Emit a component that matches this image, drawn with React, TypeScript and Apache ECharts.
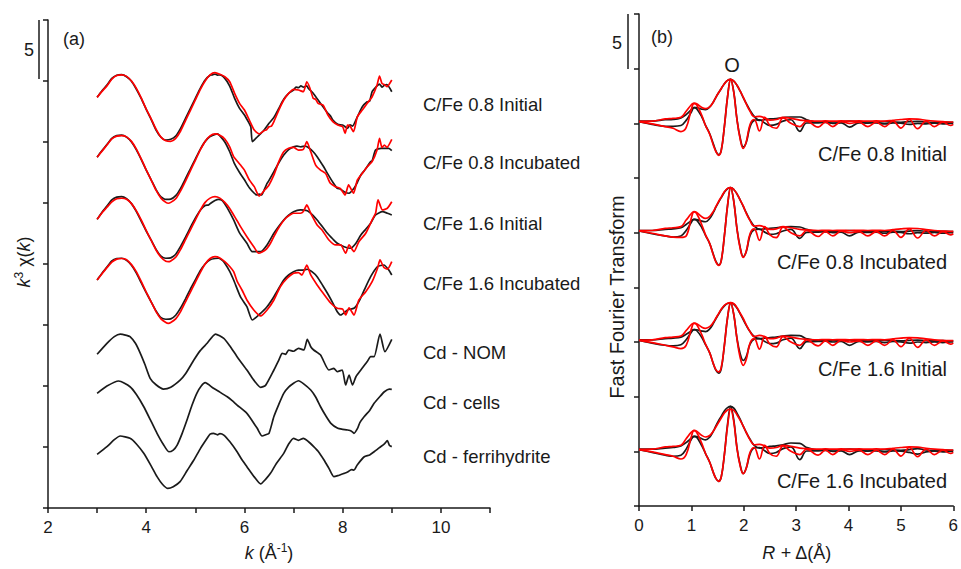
import { useEffect, useRef } from "react";
import * as echarts from "echarts";

// ---------------- Panel (a): k^3 chi(k) spectra (raw values, offsets below) ----------------
const A_LABELS = ["C/Fe 0.8 Initial", "C/Fe 0.8 Incubated", "C/Fe 1.6 Initial", "C/Fe 1.6 Incubated", "Cd - NOM", "Cd - cells", "Cd - ferrihydrite"];
const A_OFFSETS = [33, 28, 23, 18, 12, 7.5, 3.75];

const C1_DATA = [[3.0,0.66],[3.1,1.2],[3.2,1.67],[3.3,2.22],[3.4,2.47],[3.5,2.52],[3.6,2.35],[3.7,1.98],[3.8,1.32],[3.9,0.55],[4.0,-0.32],[4.1,-1.14],[4.2,-2.02],[4.3,-2.61],[4.4,-2.84],[4.5,-2.78],[4.6,-2.51],[4.7,-1.88],[4.8,-1.06],[4.9,-0.24],[5.0,0.58],[5.1,1.4],[5.2,2.08],[5.3,2.47],[5.35,2.5],[5.4,2.57],[5.45,2.48],[5.5,2.5],[5.6,2.22],[5.7,1.59],[5.8,0.58],[5.9,-0.24],[6.0,-0.79],[6.1,-1.5],[6.13,-1.75],[6.16,-2.98],[6.22,-2.75],[6.3,-2.43],[6.4,-2.02],[6.5,-1.47],[6.6,-0.98],[6.7,-0.24],[6.8,0.5],[6.9,0.99],[7.0,1.26],[7.05,1.5],[7.1,1.45],[7.15,1.6],[7.2,1.5],[7.27,1.6],[7.3,1.4],[7.4,0.99],[7.5,0.44],[7.6,-0.11],[7.7,-0.65],[7.75,-0.85],[7.8,-1.2],[7.9,-1.55],[8.0,-1.61],[8.05,-1.75],[8.1,-1.88],[8.15,-1.6],[8.2,-1.7],[8.3,-0.93],[8.4,-0.11],[8.5,0.3],[8.55,0.35],[8.6,1.12],[8.7,1.6],[8.75,1.75],[8.8,1.5],[8.85,1.65],[8.9,1.7],[9.0,1.12]];
const C1_FIT = [[3.0,0.66],[3.1,1.15],[3.2,1.6],[3.3,2.15],[3.4,2.45],[3.5,2.5],[3.6,2.38],[3.7,2.0],[3.8,1.4],[3.9,0.6],[4.0,-0.3],[4.1,-1.1],[4.2,-1.95],[4.3,-2.6],[4.4,-2.9],[4.5,-2.95],[4.6,-2.7],[4.7,-2.1],[4.8,-1.25],[4.9,-0.4],[5.0,0.45],[5.1,1.3],[5.2,2.0],[5.3,2.5],[5.4,2.68],[5.5,2.55],[5.6,2.35],[5.7,1.94],[5.8,0.99],[5.9,0.17],[6.0,-0.38],[6.1,-1.2],[6.2,-2.02],[6.3,-2.34],[6.4,-2.07],[6.45,-2.0],[6.5,-1.75],[6.55,-1.7],[6.6,-1.33],[6.7,-0.38],[6.8,0.44],[6.9,0.99],[7.0,1.32],[7.1,1.26],[7.2,1.12],[7.27,1.94],[7.33,1.45],[7.4,0.58],[7.45,0.5],[7.5,0.17],[7.6,0.03],[7.7,-0.79],[7.8,-1.33],[7.9,-1.61],[8.0,-1.75],[8.05,-2.29],[8.1,-1.61],[8.15,-1.7],[8.22,-2.16],[8.3,-0.93],[8.4,-0.38],[8.5,0.17],[8.6,0.71],[8.7,1.67],[8.75,2.41],[8.8,1.81],[8.85,1.7],[8.9,1.53],[9.0,2.08]];

const C2_DATA = [[3.0,0.75],[3.1,1.3],[3.2,1.8],[3.3,2.3],[3.4,2.52],[3.5,2.57],[3.6,2.4],[3.7,2.0],[3.8,1.35],[3.9,0.55],[4.0,-0.3],[4.1,-1.1],[4.2,-1.9],[4.3,-2.5],[4.4,-2.7],[4.5,-2.68],[4.6,-2.4],[4.7,-1.8],[4.8,-1.0],[4.9,-0.2],[5.0,0.6],[5.1,1.4],[5.2,2.05],[5.3,2.45],[5.4,2.62],[5.45,2.66],[5.5,2.5],[5.6,2.0],[5.7,1.2],[5.8,0.2],[5.9,-0.5],[6.0,-1.1],[6.1,-1.75],[6.2,-2.2],[6.25,-2.34],[6.3,-2.28],[6.35,-2.34],[6.4,-1.95],[6.46,-1.39],[6.5,-1.15],[6.6,-0.43],[6.7,0.3],[6.8,0.93],[6.9,1.38],[7.0,1.6],[7.07,1.67],[7.15,1.6],[7.24,1.67],[7.3,1.55],[7.4,1.2],[7.48,0.8],[7.6,0.05],[7.69,-0.57],[7.8,-1.3],[7.89,-1.8],[7.95,-1.85],[8.03,-2.07],[8.13,-2.2],[8.23,-1.8],[8.3,-1.3],[8.37,-0.7],[8.45,-0.3],[8.57,0.39],[8.6,0.45],[8.67,1.34],[8.78,1.48],[8.94,1.48],[9.0,1.29]];
const C2_FIT = [[3.0,0.75],[3.1,1.25],[3.2,1.75],[3.3,2.25],[3.4,2.48],[3.5,2.52],[3.6,2.42],[3.7,2.05],[3.8,1.42],[3.9,0.6],[4.0,-0.28],[4.1,-1.1],[4.2,-1.95],[4.3,-2.6],[4.4,-2.95],[4.45,-3.02],[4.5,-2.95],[4.6,-2.65],[4.7,-2.0],[4.8,-1.2],[4.9,-0.35],[5.0,0.5],[5.1,1.35],[5.2,2.05],[5.3,2.5],[5.4,2.66],[5.5,2.55],[5.6,2.25],[5.7,1.6],[5.78,0.8],[5.92,0.11],[6.0,-0.3],[6.1,-1.11],[6.2,-1.66],[6.3,-2.43],[6.4,-1.99],[6.5,-1.52],[6.6,-0.7],[6.7,0.39],[6.8,1.2],[6.9,1.48],[7.0,1.56],[7.1,1.34],[7.2,1.39],[7.27,2.03],[7.35,1.2],[7.45,0.11],[7.55,-0.3],[7.65,-0.57],[7.75,-1.39],[7.85,-1.66],[7.95,-1.8],[8.05,-2.34],[8.12,-1.52],[8.22,-2.2],[8.3,-1.11],[8.4,-0.57],[8.5,-0.03],[8.6,0.39],[8.7,1.34],[8.75,2.3],[8.8,1.56],[8.85,1.75],[8.9,1.56],[9.0,2.22]];

const C3_DATA = [[3.0,0.66],[3.1,1.25],[3.2,1.75],[3.3,2.25],[3.4,2.48],[3.5,2.52],[3.6,2.35],[3.7,1.95],[3.8,1.3],[3.9,0.5],[4.0,-0.3],[4.1,-1.05],[4.2,-1.8],[4.3,-2.35],[4.4,-2.53],[4.5,-2.5],[4.6,-2.2],[4.7,-1.55],[4.8,-0.8],[4.9,0.0],[5.0,0.75],[5.1,1.4],[5.2,1.8],[5.27,1.84],[5.32,2.0],[5.4,2.2],[5.47,2.3],[5.55,2.2],[5.65,1.6],[5.78,0.61],[5.9,-0.45],[6.05,-1.3],[6.16,-1.99],[6.33,-1.99],[6.46,-1.44],[6.6,-0.48],[6.7,0.1],[6.8,0.61],[6.9,1.0],[7.0,1.29],[7.14,1.43],[7.28,1.37],[7.38,1.05],[7.48,0.61],[7.58,0.1],[7.69,-0.48],[7.8,-0.95],[7.89,-1.3],[8.03,-1.58],[8.16,-1.71],[8.27,-1.3],[8.37,-0.62],[8.47,-0.15],[8.57,0.34],[8.67,1.02],[8.81,1.29],[8.91,1.16],[9.0,1.02]];
const C3_FIT = [[3.0,0.66],[3.1,1.2],[3.2,1.65],[3.3,2.1],[3.4,2.35],[3.5,2.39],[3.6,2.3],[3.7,1.95],[3.8,1.35],[3.9,0.6],[4.0,-0.25],[4.1,-1.05],[4.2,-1.85],[4.3,-2.45],[4.4,-2.78],[4.45,-2.81],[4.5,-2.75],[4.6,-2.45],[4.7,-1.8],[4.8,-1.0],[4.9,-0.2],[5.0,0.6],[5.1,1.4],[5.2,2.05],[5.3,2.4],[5.4,2.52],[5.5,2.4],[5.6,2.05],[5.7,1.55],[5.78,1.02],[5.85,0.55],[5.92,0.06],[6.05,-0.76],[6.19,-1.58],[6.29,-2.12],[6.43,-1.85],[6.53,-1.3],[6.67,-0.21],[6.84,0.75],[7.0,1.16],[7.14,1.16],[7.2,1.3],[7.27,1.84],[7.35,1.16],[7.48,0.2],[7.58,-0.21],[7.72,-1.03],[7.86,-1.44],[7.96,-1.44],[8.06,-2.12],[8.13,-1.44],[8.23,-1.99],[8.33,-1.17],[8.47,-0.48],[8.6,0.61],[8.67,1.16],[8.72,2.25],[8.81,1.43],[8.91,1.57],[9.0,2.1]];

const C4_DATA = [[3.0,0.69],[3.1,1.25],[3.2,1.75],[3.3,2.25],[3.4,2.45],[3.5,2.47],[3.6,2.3],[3.7,1.9],[3.8,1.25],[3.9,0.45],[4.0,-0.35],[4.1,-1.1],[4.2,-1.85],[4.3,-2.4],[4.4,-2.53],[4.5,-2.5],[4.6,-2.2],[4.7,-1.6],[4.8,-0.85],[4.9,-0.05],[5.0,0.7],[5.1,1.45],[5.2,2.0],[5.3,2.35],[5.4,2.45],[5.47,2.47],[5.55,2.3],[5.6,2.06],[5.7,1.4],[5.78,0.69],[5.92,-0.7],[6.05,-1.5],[6.16,-2.59],[6.29,-2.18],[6.46,-1.5],[6.6,-0.68],[6.8,0.69],[6.9,1.1],[7.0,1.37],[7.1,1.5],[7.2,1.5],[7.28,1.57],[7.38,1.35],[7.48,0.96],[7.6,0.2],[7.69,-0.4],[7.8,-1.2],[7.89,-1.91],[7.96,-2.18],[8.1,-1.77],[8.23,-1.63],[8.33,-1.08],[8.44,-0.13],[8.57,0.96],[8.71,1.78],[8.84,1.92],[8.94,1.5],[9.0,1.1]];
const C4_FIT = [[3.0,0.69],[3.1,1.2],[3.2,1.7],[3.3,2.15],[3.4,2.4],[3.5,2.45],[3.6,2.35],[3.7,1.95],[3.8,1.35],[3.9,0.55],[4.0,-0.3],[4.1,-1.1],[4.2,-1.9],[4.3,-2.5],[4.4,-2.8],[4.45,-2.86],[4.5,-2.8],[4.6,-2.5],[4.7,-1.9],[4.8,-1.1],[4.9,-0.3],[5.0,0.5],[5.1,1.3],[5.2,2.0],[5.3,2.45],[5.4,2.6],[5.5,2.5],[5.6,2.2],[5.7,1.8],[5.78,1.37],[5.85,0.6],[5.95,-0.13],[6.05,-0.95],[6.19,-1.77],[6.33,-2.26],[6.46,-1.77],[6.6,-0.95],[6.73,0.14],[6.87,0.83],[7.0,1.24],[7.1,1.3],[7.17,1.1],[7.27,1.92],[7.35,1.1],[7.48,0.28],[7.58,-0.27],[7.76,-1.22],[7.89,-1.63],[8.0,-1.7],[8.06,-2.18],[8.13,-1.6],[8.23,-2.18],[8.33,-0.95],[8.47,-0.27],[8.6,0.55],[8.71,1.65],[8.76,2.33],[8.84,1.71],[8.91,1.57],[9.0,2.19]];

const NOM_DATA = [[3.0,0.6],[3.2,1.5],[3.35,2.05],[3.47,2.26],[3.6,2.15],[3.67,2.04],[3.78,1.5],[3.88,0.68],[3.98,-0.3],[4.08,-1.37],[4.2,-1.9],[4.35,-2.25],[4.5,-2.1],[4.69,-1.52],[4.8,-1.0],[4.97,0.13],[5.1,0.9],[5.24,1.5],[5.41,2.26],[5.58,1.91],[5.7,1.3],[5.85,0.4],[6.05,-0.69],[6.19,-1.52],[6.33,-2.11],[6.43,-1.95],[6.6,-0.69],[6.7,0.13],[6.77,0.68],[6.84,0.6],[6.9,0.95],[7.0,0.85],[7.1,1.09],[7.21,0.95],[7.28,1.83],[7.35,1.22],[7.41,0.95],[7.55,0.54],[7.72,-0.69],[7.82,-0.55],[7.89,-0.83],[7.99,-0.69],[8.06,-1.92],[8.13,-1.1],[8.2,-1.92],[8.27,-1.24],[8.37,-0.69],[8.5,0.0],[8.57,0.4],[8.64,0.4],[8.76,2.26],[8.86,0.81],[9.0,1.83]];
const CELLS_DATA = [[3.0,1.9],[3.2,2.5],[3.44,2.91],[3.67,2.44],[3.8,1.8],[3.95,0.8],[4.1,-0.4],[4.22,-1.38],[4.35,-2.3],[4.46,-2.89],[4.55,-2.75],[4.63,-2.34],[4.73,-1.4],[4.83,-0.29],[4.93,0.9],[5.03,1.9],[5.12,2.5],[5.2,2.77],[5.37,2.31],[5.5,2.0],[5.65,1.62],[5.75,1.3],[5.85,0.94],[6.05,0.26],[6.15,-0.3],[6.26,-0.97],[6.36,-1.6],[6.43,-1.5],[6.5,-1.38],[6.6,0.0],[6.7,1.0],[6.8,1.9],[6.9,2.4],[7.0,2.72],[7.1,2.93],[7.2,2.7],[7.35,2.17],[7.45,1.6],[7.55,0.8],[7.65,0.1],[7.76,-0.56],[7.9,-0.97],[8.0,-1.05],[8.1,-1.11],[8.18,-1.2],[8.23,-1.38],[8.3,-1.0],[8.35,-0.5],[8.44,0.0],[8.55,0.5],[8.64,1.08],[8.75,1.6],[8.85,2.03],[8.95,2.25],[9.0,2.23]];
const FERRI_DATA = [[3.0,0.65],[3.2,1.28],[3.35,1.85],[3.47,2.15],[3.67,1.96],[3.8,1.5],[3.95,0.73],[4.1,-0.3],[4.22,-1.18],[4.33,-1.8],[4.44,-2.14],[4.55,-2.0],[4.69,-1.59],[4.83,-0.7],[4.97,0.18],[5.1,1.1],[5.24,1.96],[5.3,2.3],[5.37,2.37],[5.45,2.25],[5.5,2.35],[5.58,2.23],[5.7,1.7],[5.85,0.86],[5.95,0.2],[6.05,-0.36],[6.2,-1.2],[6.33,-1.78],[6.43,-1.4],[6.53,-0.91],[6.65,-0.1],[6.8,0.73],[6.9,1.5],[7.0,1.96],[7.1,1.8],[7.2,1.96],[7.3,1.7],[7.41,1.28],[7.5,0.9],[7.62,0.18],[7.72,-0.5],[7.82,-1.18],[7.9,-1.1],[8.03,-0.91],[8.1,-0.8],[8.18,-0.6],[8.23,-0.64],[8.3,-0.2],[8.44,0.45],[8.55,0.6],[8.64,0.86],[8.75,1.2],[8.85,1.5],[8.91,1.77],[8.95,1.4],[9.0,1.28]];

const A_DATA = [C1_DATA, C2_DATA, C3_DATA, C4_DATA, NOM_DATA, CELLS_DATA, FERRI_DATA];
const A_FITS = [C1_FIT, C2_FIT, C3_FIT, C4_FIT];

// ---------------- Panel (b): Fourier transforms (magnitude + imaginary part) ----------------
const B_LABELS = ["C/Fe 0.8 Initial", "C/Fe 0.8 Incubated", "C/Fe 1.6 Initial", "C/Fe 1.6 Incubated"];
const B_OFFSETS = [35, 25, 15, 5];
const R_GRID = [0,0.25,0.5,0.65,0.8,0.9,1.0,1.05,1.1,1.2,1.27,1.35,1.42,1.47,1.52,1.57,1.63,1.69,1.75,1.81,1.87,1.93,1.99,2.05,2.12,2.2,2.3,2.4,2.5,2.62,2.75,2.9,3.07,3.2,3.42,3.56,3.7,3.86,4.02,4.2,4.37,4.53,4.69,4.85,5.0,5.16,5.32,5.48,5.64,5.8,5.95,6.0];

const B1_MAG = [0.2,0.2,0.33,0.36,0.5,0.8,1.25,1.43,1.43,1.3,1.25,1.5,1.95,2.4,2.8,3.17,3.63,3.93,4.02,3.87,3.48,2.96,2.35,1.8,1.19,0.64,0.27,0.33,0.4,0.43,0.52,0.58,0.58,0.33,0.12,0.15,0.12,0.15,0.2,0.15,0.12,0.1,0.15,0.12,0.1,0.15,0.18,0.12,0.1,0.12,0.1,0.1];
const B1_IM = [0.15,-0.1,-0.27,-0.27,-0.2,0.27,1.04,1.43,1.34,0.58,-0.18,-0.95,-1.9,-2.55,-2.87,-2.47,-0.3,2.4,4.02,2.85,0.4,-1.3,-2.16,-1.7,-0.3,0.27,0.33,0.03,-0.18,-0.1,0.2,0.33,-0.73,0.03,0.05,0.08,0.0,0.05,-0.34,0.05,0.02,0.05,-0.05,0.05,0.02,-0.1,0.0,-0.05,0.02,-0.05,0.0,0.0];
const B1_FIT_MAG = [0.18,0.2,0.4,0.45,0.55,1.1,1.7,1.86,1.8,1.45,1.34,1.5,1.95,2.4,2.8,3.17,3.63,3.93,4.02,3.87,3.48,2.96,2.4,1.75,1.1,0.6,0.64,0.5,0.3,0.35,0.55,0.45,0.3,0.25,0.2,0.22,0.2,0.22,0.2,0.22,0.2,0.22,0.2,0.28,0.35,0.4,0.38,0.28,0.2,0.15,0.12,0.12];
const B1_FIT_IM = [0.15,-0.05,-0.3,-0.45,-0.75,-0.4,1.3,1.8,1.7,0.7,-0.2,-1.0,-2.0,-2.6,-2.93,-2.5,-0.3,2.4,4.02,2.8,0.35,-1.4,-2.3,-1.65,-0.1,0.35,-0.7,0.55,-0.2,-0.45,0.5,0.0,-0.3,0.2,-0.35,0.1,-0.3,0.15,0.0,0.1,-0.3,0.1,-0.3,0.2,-0.43,0.35,-0.49,0.2,-0.3,0.1,-0.2,-0.1];

const B2_MAG = [0.2,0.2,0.3,0.35,0.45,0.75,1.1,1.22,1.2,1.05,1.0,1.3,1.85,2.35,2.8,3.2,3.7,4.02,4.12,3.95,3.55,3.0,2.4,1.8,1.15,0.6,0.3,0.35,0.4,0.45,0.5,0.55,0.52,0.3,0.12,0.15,0.12,0.15,0.2,0.15,0.12,0.1,0.15,0.12,0.1,0.15,0.18,0.12,0.1,0.12,0.1,0.1];
const B2_IM = [0.15,-0.1,-0.3,-0.4,-0.3,0.2,0.95,1.22,1.15,0.45,-0.25,-1.0,-2.0,-2.65,-2.96,-2.55,-0.3,2.45,4.12,2.85,0.4,-1.3,-2.2,-1.7,-0.25,0.27,0.33,0.05,-0.15,-0.1,0.15,0.3,-0.52,0.03,0.05,0.08,0.0,0.05,-0.3,0.05,0.02,0.05,-0.05,0.05,0.02,-0.1,0.0,-0.05,0.02,-0.05,0.0,0.0];
const B2_FIT_MAG = [0.18,0.2,0.4,0.45,0.55,1.15,1.75,1.92,1.85,1.45,1.31,1.5,1.95,2.4,2.85,3.25,3.75,4.05,4.12,3.95,3.55,3.0,2.45,1.75,1.1,0.6,0.64,0.5,0.3,0.35,0.55,0.45,0.3,0.25,0.2,0.22,0.2,0.22,0.2,0.22,0.2,0.22,0.2,0.28,0.35,0.4,0.38,0.28,0.2,0.15,0.12,0.12];
const B2_FIT_IM = [0.15,-0.05,-0.3,-0.4,-0.43,-0.3,1.35,1.9,1.75,0.7,-0.2,-1.0,-2.05,-2.7,-3.0,-2.55,-0.3,2.45,4.12,2.85,0.35,-1.4,-2.26,-1.65,-0.1,0.35,-0.7,0.55,-0.2,-0.45,0.5,0.0,-0.3,0.2,-0.35,0.1,-0.3,0.15,0.0,0.1,-0.3,0.1,-0.3,0.2,-0.43,0.35,-0.49,0.2,-0.3,0.1,-0.2,-0.1];

const B3_MAG = [0.2,0.2,0.3,0.35,0.45,0.7,1.0,1.13,1.12,1.0,0.95,1.2,1.7,2.15,2.55,2.95,3.3,3.52,3.55,3.45,3.1,2.6,2.05,1.5,0.95,0.5,0.3,0.35,0.4,0.45,0.55,0.61,0.58,0.3,0.12,0.15,0.12,0.15,0.2,0.15,0.12,0.1,0.15,0.12,0.1,0.15,0.18,0.12,0.1,0.12,0.1,0.1];
const B3_IM = [0.15,-0.1,-0.3,-0.35,-0.25,0.2,0.9,1.13,1.05,0.4,-0.25,-1.0,-2.0,-2.6,-2.84,-2.45,-0.3,2.2,3.55,2.5,0.35,-1.05,-1.68,-1.3,-0.2,0.25,0.3,0.05,-0.15,-0.1,0.2,0.35,-0.61,0.03,0.05,0.08,0.0,0.05,-0.3,0.05,0.02,0.05,-0.05,0.05,0.02,-0.1,0.0,-0.05,0.02,-0.05,0.0,0.0];
const B3_FIT_MAG = [0.18,0.2,0.4,0.45,0.55,1.05,1.6,1.74,1.68,1.35,1.25,1.4,1.8,2.2,2.6,3.0,3.35,3.55,3.6,3.5,3.15,2.65,2.15,1.55,0.95,0.5,0.6,0.5,0.3,0.35,0.55,0.45,0.3,0.25,0.2,0.22,0.2,0.22,0.2,0.22,0.2,0.22,0.2,0.28,0.35,0.4,0.38,0.28,0.2,0.15,0.12,0.12];
const B3_FIT_IM = [0.15,-0.05,-0.3,-0.45,-0.6,-0.3,1.2,1.7,1.6,0.65,-0.2,-1.0,-2.0,-2.55,-2.74,-2.35,-0.3,2.2,3.6,2.5,0.3,-1.4,-2.13,-1.55,-0.1,0.3,-0.65,0.5,-0.2,-0.45,0.5,0.0,-0.3,0.2,-0.35,0.1,-0.3,0.15,0.0,0.1,-0.3,0.1,-0.3,0.2,-0.43,0.35,-0.49,0.2,-0.3,0.1,-0.2,-0.1];

const B4_MAG = [0.2,0.2,0.3,0.35,0.5,0.8,1.2,1.37,1.35,1.15,1.05,1.3,1.85,2.35,2.8,3.2,3.7,4.0,4.12,3.95,3.5,2.95,2.3,1.7,1.1,0.55,0.3,0.35,0.45,0.5,0.6,0.76,0.72,0.35,0.12,0.15,0.12,0.15,0.2,0.15,0.12,0.1,0.15,0.12,0.1,0.15,0.25,0.12,0.1,0.12,0.1,0.1];
const B4_IM = [0.15,-0.1,-0.35,-0.45,-0.35,0.2,1.1,1.37,1.3,0.5,-0.2,-1.0,-1.95,-2.5,-2.74,-2.35,-0.3,2.45,4.12,2.85,0.35,-1.2,-2.04,-1.5,-0.25,0.3,0.35,0.05,-0.2,-0.1,0.25,0.4,-0.76,0.03,0.05,0.08,0.0,0.05,-0.3,0.05,0.02,0.05,-0.05,0.05,0.02,-0.1,-0.25,-0.05,0.02,-0.05,0.0,0.0];
const B4_FIT_MAG = [0.18,0.2,0.4,0.45,0.55,1.15,1.75,1.92,1.85,1.45,1.31,1.45,1.85,2.25,2.65,3.05,3.5,3.78,3.87,3.75,3.35,2.85,2.3,1.7,1.05,0.6,0.64,0.5,0.3,0.35,0.55,0.45,0.3,0.25,0.2,0.22,0.2,0.22,0.2,0.22,0.2,0.22,0.2,0.28,0.35,0.4,0.38,0.28,0.2,0.15,0.12,0.12];
const B4_FIT_IM = [0.15,-0.05,-0.3,-0.45,-0.7,-0.3,1.35,1.9,1.75,0.7,-0.2,-1.0,-1.95,-2.5,-2.74,-2.35,-0.3,2.3,3.87,2.7,0.3,-1.3,-2.04,-1.5,-0.1,0.35,-0.7,0.55,-0.2,-0.45,0.5,0.0,-0.3,0.2,-0.35,0.1,-0.3,0.15,0.0,0.1,-0.3,0.1,-0.3,0.2,-0.43,0.35,-0.49,0.2,-0.3,0.1,-0.2,-0.1];

const B_DATA = [[B1_MAG, B1_IM], [B2_MAG, B2_IM], [B3_MAG, B3_IM], [B4_MAG, B4_IM]];
const B_FITS = [[B1_FIT_MAG, B1_FIT_IM], [B2_FIT_MAG, B2_FIT_IM], [B3_FIT_MAG, B3_FIT_IM], [B4_FIT_MAG, B4_FIT_IM]];

// axis ticks
const A_X_TICKS = [2, 4, 6, 8, 10];
const B_X_TICKS = [0, 1, 2, 3, 4, 5, 6];

const FONT = '"Liberation Sans", Arial, Helvetica, sans-serif';
const INK = "#1a1a1a";
const RED = "#ff0000";

function shifted(pairs: number[][], off: number) {
  return pairs.map(([x, y]) => [x, +(y + off).toFixed(3)]);
}
function gridded(xs: number[], ys: number[], off: number) {
  return xs.map((x, i) => [x, +(ys[i] + off).toFixed(3)]);
}

function lineSeries(data: number[][], color: string, axis: number, smooth: number, width: number) {
  return {
    type: "line",
    xAxisIndex: axis,
    yAxisIndex: axis,
    data,
    showSymbol: false,
    symbol: "none",
    smooth,
    silent: true,
    clip: false,
    lineStyle: { color, width },
  };
}

export default function App() {
  const ref = useRef<HTMLDivElement>(null);
  useEffect(() => {
    if (!ref.current) return;
    const chart = echarts.init(ref.current, undefined, { renderer: "svg" });

    const series: any[] = [];
    A_DATA.forEach((d, i) => series.push(lineSeries(shifted(d, A_OFFSETS[i]), INK, 0, 0.2, 1.7)));
    A_FITS.forEach((d, i) => series.push(lineSeries(shifted(d, A_OFFSETS[i]), RED, 0, 0.2, 1.7)));
    B_DATA.forEach(([m, im], i) => {
      series.push(lineSeries(gridded(R_GRID, m, B_OFFSETS[i]), INK, 1, 0.4, 1.7));
      series.push(lineSeries(gridded(R_GRID, im, B_OFFSETS[i]), INK, 1, 0.4, 1.7));
    });
    B_FITS.forEach(([m, im], i) => {
      series.push(lineSeries(gridded(R_GRID, m, B_OFFSETS[i]), RED, 1, 0.4, 1.7));
      series.push(lineSeries(gridded(R_GRID, im, B_OFFSETS[i]), RED, 1, 0.4, 1.7));
    });

    const axisLine = { show: true, lineStyle: { color: INK, width: 1.5 } };
    const tickStyle = { show: true, inside: false, length: 5, lineStyle: { color: INK, width: 1.5 } };
    const labelStyle = { color: INK, fontFamily: FONT, fontSize: 17, margin: 11 };

    const textEl = (x: number, y: number, text: string, size: number, align = "left", extra: any = {}, rotation = 0) => ({
      type: "text",
      x,
      y,
      rotation,
      silent: true,
      style: {
        text,
        fill: INK,
        font: `${size}px ${FONT}`,
        align,
        textAlign: align,
        verticalAlign: "middle",
        textVerticalAlign: "middle",
        ...extra,
      },
    });

    const graphic: any[] = [
      { type: "line", silent: true, shape: { x1: 39, y1: 20, x2: 39, y2: 79 }, style: { stroke: INK, lineWidth: 1.5 } },
      textEl(29, 50, "5", 18, "center"),
      textEl(63, 39, "(a)", 18),
      { type: "line", silent: true, shape: { x1: 628, y1: 14, x2: 628, y2: 69 }, style: { stroke: INK, lineWidth: 1.5 } },
      textEl(617, 43, "5", 18, "center"),
      textEl(651, 37, "(b)", 18),
      textEl(732, 65, "O", 20, "center"),
    ];
    const aLabelY = [104, 162, 223, 283, 352, 402, 456];
    A_LABELS.forEach((t, i) => graphic.push(textEl(423, aLabelY[i], t, 18.5)));
    const bLabelY = [154, 262, 369, 481];
    B_LABELS.forEach((t, i) => graphic.push(textEl(947, bLabelY[i], t, 20, "right")));
    const richA = {
      i: { fontStyle: "italic", fontSize: 18, fontFamily: FONT, fill: INK, lineHeight: 22 },
      n: { fontSize: 18, fontFamily: FONT, fill: INK, lineHeight: 22 },
      s: { fontSize: 12, fontFamily: FONT, fill: INK, verticalAlign: "top", lineHeight: 22 },
    };
    // axis titles
    graphic.push(textEl(269, 553, "{i|k}{n| (Å}{s|-1}{n|)}", 18, "center", { rich: richA }));
    graphic.push(textEl(797, 553, "{i|R}{n| + Δ(Å)}", 18, "center", { rich: richA }));
    graphic.push(textEl(24, 262, "{i|k}{s|3}{n| χ(}{i|k}{n|)}", 18, "center", { rich: richA }, Math.PI / 2));
    graphic.push(textEl(617, 297, "Fast Fourier Transform", 20, "center", {}, Math.PI / 2));

    chart.setOption({
      animation: false,
      backgroundColor: "#ffffff",
      grid: [
        { left: 48, top: 20, width: 442, height: 488, containLabel: false },
        { left: 639, top: 14, width: 315, height: 492, containLabel: false },
      ],
      xAxis: [
        {
          type: "value", gridIndex: 0, min: 2, max: 11, interval: 1,
          axisLine, axisTick: tickStyle, splitLine: { show: false },
          axisLabel: { ...labelStyle, formatter: (v: number) => (A_X_TICKS.includes(v) ? String(v) : "") },
        },
        {
          type: "value", gridIndex: 1, min: 0, max: 6, interval: 1,
          axisLine, axisTick: tickStyle, splitLine: { show: false },
          axisLabel: { ...labelStyle, formatter: (v: number) => (B_X_TICKS.includes(v) ? String(v) : "") },
        },
      ],
      yAxis: [
        {
          type: "value", gridIndex: 0, min: 0, max: 40, interval: 5,
          axisLine, axisTick: tickStyle, splitLine: { show: false }, axisLabel: { show: false },
        },
        {
          type: "value", gridIndex: 1, min: 0, max: 45, interval: 5,
          axisLine, axisTick: tickStyle, splitLine: { show: false }, axisLabel: { show: false },
        },
      ],
      series,
      graphic,
    });
    return () => chart.dispose();
  }, []);
  return (
    <div
      ref={ref}
      style={{ position: "fixed", left: 0, top: 0, width: 961, height: 569, background: "#fff" }}
    />
  );
}
